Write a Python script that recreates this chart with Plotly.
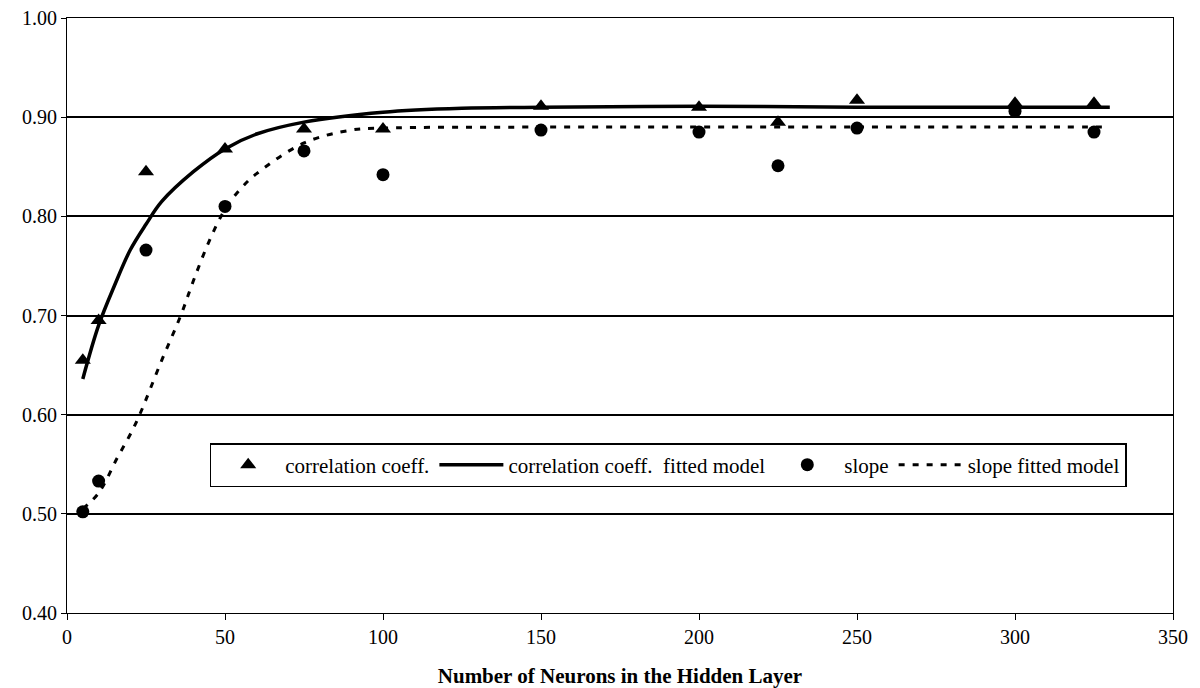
import plotly.graph_objects as go

# Data
neurons = [5, 10, 25, 50, 75, 100, 150, 200, 225, 250, 300, 325]
corr_coeff = [0.655, 0.695, 0.845, 0.868, 0.888, 0.888, 0.911, 0.910, 0.895, 0.917, 0.914, 0.914]
slope = [0.502, 0.533, 0.766, 0.810, 0.866, 0.842, 0.887, 0.885, 0.851, 0.889, 0.906, 0.885]

corr_fit_x = [5, 10, 15, 20, 25, 30, 40, 50, 60, 75, 100, 125, 150, 200, 250, 300, 330]
corr_fit_y = [0.636, 0.690, 0.730, 0.766, 0.792, 0.815, 0.845, 0.868, 0.883, 0.895, 0.905, 0.909, 0.910, 0.911, 0.910, 0.910, 0.910]

slope_fit_x = [5, 10, 16, 20, 23, 30, 36, 40, 45, 50, 55, 60, 75, 90, 100, 150, 200, 250, 300, 330]
slope_fit_y = [0.505, 0.521, 0.557, 0.580, 0.600, 0.655, 0.700, 0.735, 0.775, 0.807, 0.828, 0.843, 0.874, 0.887, 0.889, 0.890, 0.890, 0.890, 0.890, 0.890]

x_ticks = [0, 50, 100, 150, 200, 250, 300, 350]
y_ticks = [0.40, 0.50, 0.60, 0.70, 0.80, 0.90, 1.00]

FONT = "Liberation Serif"

fig = go.Figure()
fig.add_trace(go.Scatter(
    x=neurons, y=corr_coeff, mode="markers", name="correlation coeff.",
    marker=dict(symbol="triangle-up", size=14, color="black")))
fig.add_trace(go.Scatter(
    x=corr_fit_x, y=corr_fit_y, mode="lines", name="correlation coeff.  fitted model",
    line=dict(color="black", width=3.5, shape="spline")))
fig.add_trace(go.Scatter(
    x=neurons, y=slope, mode="markers", name="slope",
    marker=dict(symbol="circle", size=13, color="black")))
fig.add_trace(go.Scatter(
    x=slope_fit_x, y=slope_fit_y, mode="lines", name="slope fitted model",
    line=dict(color="black", width=3, dash="6px,8px", shape="spline")))

fig.update_layout(
    width=1200, height=688,
    margin=dict(l=67, r=27, t=18, b=75),
    paper_bgcolor="white", plot_bgcolor="white",
    font=dict(family=FONT, size=20, color="black"),
    showlegend=True,
    legend=dict(
        orientation="h", x=0.129, y=0.2857, xanchor="left", yanchor="top",
        bgcolor="white", bordercolor="black", borderwidth=1.5,
        font=dict(family=FONT, size=21, color="black"),
        itemwidth=64,
    ),
    xaxis=dict(
        range=[0, 350], tickvals=x_ticks, ticktext=[str(v) for v in x_ticks],
        showgrid=False, zeroline=False, automargin=False,
        showline=True, linecolor="black", linewidth=1, mirror=True,
        ticks="outside", ticklen=6, tickcolor="black",
        tickfont=dict(family=FONT, size=20),
        title=dict(text="<b>Number of Neurons in the Hidden Layer</b>",
                   font=dict(family=FONT, size=21), standoff=22),
    ),
    yaxis=dict(
        range=[0.40, 1.00], tickvals=y_ticks, ticktext=[f"{v:.2f}" for v in y_ticks],
        showgrid=True, gridcolor="black", gridwidth=2, zeroline=False, automargin=False,
        showline=True, linecolor="black", linewidth=1, mirror=True,
        ticks="outside", ticklen=5, tickcolor="black",
        tickfont=dict(family=FONT, size=20),
    ),
)

fig.write_html("out.html")
